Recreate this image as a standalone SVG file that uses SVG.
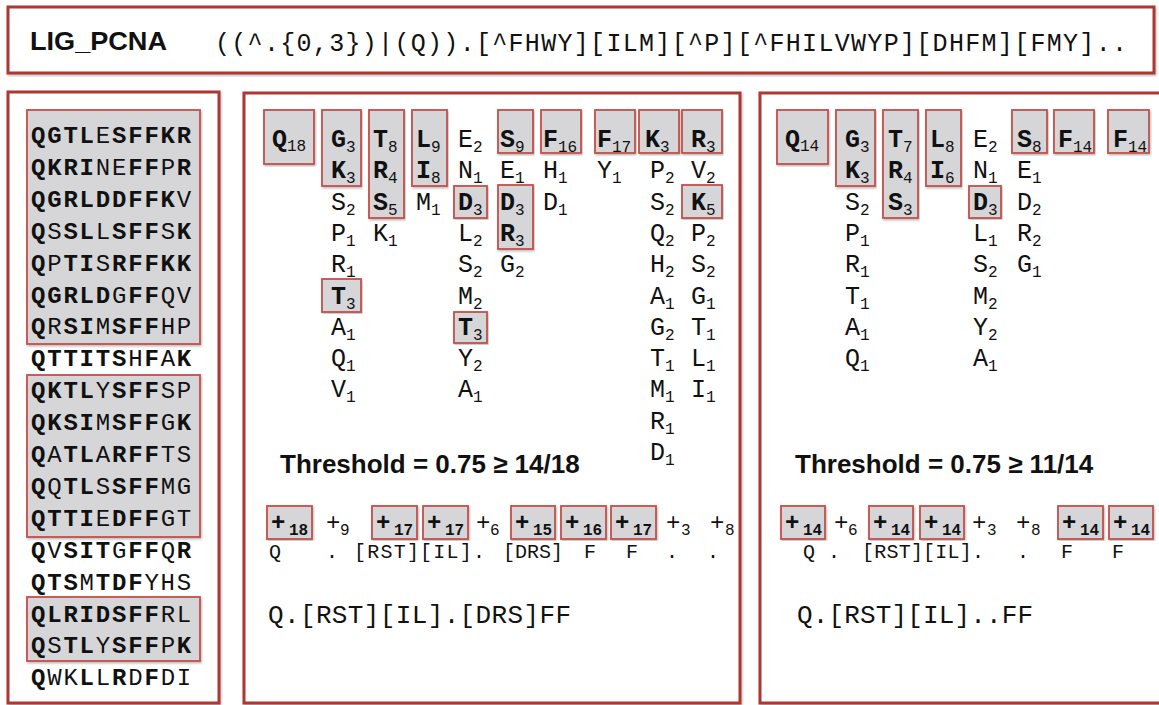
<svg xmlns="http://www.w3.org/2000/svg" width="1159" height="705" viewBox="0 0 1159 705">
<defs>
<filter id="sh" x="-5%" y="-5%" width="110%" height="110%">
<feDropShadow dx="1" dy="1.5" stdDeviation="1" flood-color="#777" flood-opacity="0.5"/>
</filter>
<style>
.panel{fill:#fff;stroke:#ad3733;stroke-width:3;filter:url(#sh)}
.box{fill:#d6d6d9;stroke:#c2504b;stroke-width:1.8;filter:url(#sh)}
.m{font-family:"Liberation Mono",monospace;font-size:25px;fill:#111}
.b{font-weight:bold}
.s{font-size:16px;font-weight:normal}
.sb{font-size:16px;font-weight:bold}
.seq{font-family:"Liberation Mono",monospace;font-size:24px;letter-spacing:1.8px;fill:#111}
.n{font-weight:normal}
.p{font-family:"Liberation Mono",monospace;font-size:24px;fill:#111}
.r2{font-family:"Liberation Mono",monospace;font-size:20px;fill:#111}
.r3{font-family:"Liberation Mono",monospace;font-size:26px;fill:#111}
.th{font-family:"Liberation Sans",Arial,sans-serif;font-size:26px;font-weight:bold;fill:#111}
</style>
</defs>

<g id="header">
<rect class="panel" x="8" y="7" width="1146" height="66"/>
<text x="30" y="50" font-family="Liberation Sans, Arial, sans-serif" font-size="25" font-weight="bold" fill="#111" textLength="137" lengthAdjust="spacingAndGlyphs">LIG_PCNA</text>
<text x="215" y="51" font-family="Liberation Mono, monospace" font-size="25" fill="#111" textLength="912" lengthAdjust="spacing">((^.{0,3})|(Q)).[^FHWY][ILM][^P][^FHILVWYP][DHFM][FMY]..</text>
</g>

<g id="sequences">
<rect class="panel" x="8" y="92" width="211" height="611"/>
<rect class="box" x="27" y="110" width="173" height="234"/>
<rect class="box" x="27" y="375" width="173" height="162"/>
<rect class="box" x="27" y="597" width="173" height="64"/>
<g class="seq b">
<text x="31" y="143">QGTL<tspan class="n">E</tspan>SFFKR</text>
<text x="31" y="174.9">QKRI<tspan class="n">NE</tspan>FF<tspan class="n">P</tspan>R</text>
<text x="31" y="206.8">QGRLDDFFK<tspan class="n">V</tspan></text>
<text x="31" y="238.7">Q<tspan class="n">S</tspan>SL<tspan class="n">L</tspan>SFF<tspan class="n">S</tspan>K</text>
<text x="31" y="270.6">Q<tspan class="n">P</tspan>TI<tspan class="n">S</tspan>RFFKK</text>
<text x="31" y="302.5">QGRLD<tspan class="n">G</tspan>FF<tspan class="n">QV</tspan></text>
<text x="31" y="334.4">Q<tspan class="n">R</tspan>SI<tspan class="n">M</tspan>SFF<tspan class="n">HP</tspan></text>
<text x="31" y="366.3">QTTITS<tspan class="n">H</tspan>F<tspan class="n">A</tspan>K</text>
<text x="31" y="398.2">QKTL<tspan class="n">Y</tspan>SFF<tspan class="n">SP</tspan></text>
<text x="31" y="430.1">QKSI<tspan class="n">M</tspan>SFF<tspan class="n">G</tspan>K</text>
<text x="31" y="462">Q<tspan class="n">A</tspan>TL<tspan class="n">A</tspan>RFF<tspan class="n">TS</tspan></text>
<text x="31" y="493.9">Q<tspan class="n">Q</tspan>TL<tspan class="n">S</tspan>SFF<tspan class="n">MG</tspan></text>
<text x="31" y="525.8">QTTI<tspan class="n">E</tspan>DFF<tspan class="n">GT</tspan></text>
<text x="31" y="557.7">Q<tspan class="n">V</tspan>SIT<tspan class="n">G</tspan>FF<tspan class="n">Q</tspan>R</text>
<text x="31" y="589.6">QTS<tspan class="n">M</tspan>TDF<tspan class="n">YHS</tspan></text>
<text x="31" y="621.5">QLRIDSFF<tspan class="n">RL</tspan></text>
<text x="31" y="653.4">Q<tspan class="n">S</tspan>TL<tspan class="n">Y</tspan>SFF<tspan class="n">P</tspan>K</text>
<text x="31" y="685.3">Q<tspan class="n">WK</tspan>L<tspan class="n">L</tspan>R<tspan class="n">D</tspan>F<tspan class="n">DI</tspan></text>
</g>
</g>

<g id="profile18">
<rect class="panel" x="244" y="93" width="496" height="610"/>
<rect class="box" x="264" y="110" width="50" height="54"/>
<rect class="box" x="322" y="110" width="39" height="76"/>
<rect class="box" x="369" y="110" width="35" height="108"/>
<rect class="box" x="412" y="110" width="35" height="76"/>
<rect class="box" x="454" y="186" width="33" height="32"/>
<rect class="box" x="498" y="110" width="35" height="43"/>
<rect class="box" x="541" y="110" width="40" height="43"/>
<rect class="box" x="595" y="110" width="40" height="43"/>
<rect class="box" x="639" y="110" width="40" height="43"/>
<rect class="box" x="682" y="110" width="40" height="43"/>
<rect class="box" x="498" y="185" width="35" height="64"/>
<rect class="box" x="682" y="185" width="40" height="33"/>
<rect class="box" x="322" y="279" width="39" height="33"/>
<rect class="box" x="454" y="312" width="33" height="31"/>
<g class="m">
<text class="b" x="272" y="147">Q<tspan class="s" dy="4">18</tspan></text>
<text class="b" x="331" y="147">G<tspan class="s" dy="5">3</tspan></text>
<text class="b" x="331" y="178.3">K<tspan class="s" dy="5">3</tspan></text>
<text x="331" y="209.6">S<tspan class="s" dy="5">2</tspan></text>
<text x="331" y="240.9">P<tspan class="s" dy="5">1</tspan></text>
<text x="331" y="272.2">R<tspan class="s" dy="5">1</tspan></text>
<text class="b" x="331" y="303.5">T<tspan class="s" dy="5">3</tspan></text>
<text x="331" y="334.8">A<tspan class="s" dy="5">1</tspan></text>
<text x="331" y="366.1">Q<tspan class="s" dy="5">1</tspan></text>
<text x="331" y="397.4">V<tspan class="s" dy="5">1</tspan></text>
<text class="b" x="373" y="147">T<tspan class="s" dy="5">8</tspan></text>
<text class="b" x="373" y="178.3">R<tspan class="s" dy="5">4</tspan></text>
<text class="b" x="373" y="209.6">S<tspan class="s" dy="5">5</tspan></text>
<text x="373" y="240.9">K<tspan class="s" dy="5">1</tspan></text>
<text class="b" x="416" y="147">L<tspan class="s" dy="5">9</tspan></text>
<text class="b" x="416" y="178.3">I<tspan class="s" dy="5">8</tspan></text>
<text x="416" y="209.6">M<tspan class="s" dy="5">1</tspan></text>
<text x="458" y="147">E<tspan class="s" dy="5">2</tspan></text>
<text x="458" y="178.3">N<tspan class="s" dy="5">1</tspan></text>
<text class="b" x="458" y="209.6">D<tspan class="s" dy="5">3</tspan></text>
<text x="458" y="240.9">L<tspan class="s" dy="5">2</tspan></text>
<text x="458" y="272.2">S<tspan class="s" dy="5">2</tspan></text>
<text x="458" y="303.5">M<tspan class="s" dy="5">2</tspan></text>
<text class="b" x="458" y="334.8">T<tspan class="s" dy="5">3</tspan></text>
<text x="458" y="366.1">Y<tspan class="s" dy="5">2</tspan></text>
<text x="458" y="397.4">A<tspan class="s" dy="5">1</tspan></text>
<text class="b" x="500" y="147">S<tspan class="s" dy="5">9</tspan></text>
<text x="500" y="178.3">E<tspan class="s" dy="5">1</tspan></text>
<text class="b" x="500" y="209.6">D<tspan class="s" dy="5">3</tspan></text>
<text class="b" x="500" y="240.9">R<tspan class="s" dy="5">3</tspan></text>
<text x="500" y="272.2">G<tspan class="s" dy="5">2</tspan></text>
<text class="b" x="543" y="147">F<tspan class="s" dy="5">16</tspan></text>
<text x="543" y="178.3">H<tspan class="s" dy="5">1</tspan></text>
<text x="543" y="209.6">D<tspan class="s" dy="5">1</tspan></text>
<text class="b" x="597" y="147">F<tspan class="s" dy="5">17</tspan></text>
<text x="597" y="178.3">Y<tspan class="s" dy="5">1</tspan></text>
<text class="b" x="645" y="147">K<tspan class="s" dy="5">3</tspan></text>
<text x="650" y="178.3">P<tspan class="s" dy="5">2</tspan></text>
<text x="650" y="209.6">S<tspan class="s" dy="5">2</tspan></text>
<text x="650" y="240.9">Q<tspan class="s" dy="5">2</tspan></text>
<text x="650" y="272.2">H<tspan class="s" dy="5">2</tspan></text>
<text x="650" y="303.5">A<tspan class="s" dy="5">1</tspan></text>
<text x="650" y="334.8">G<tspan class="s" dy="5">2</tspan></text>
<text x="650" y="366.1">T<tspan class="s" dy="5">1</tspan></text>
<text x="650" y="397.4">M<tspan class="s" dy="5">1</tspan></text>
<text x="650" y="428.7">R<tspan class="s" dy="5">1</tspan></text>
<text x="650" y="460">D<tspan class="s" dy="5">1</tspan></text>
<text class="b" x="691" y="147">R<tspan class="s" dy="5">3</tspan></text>
<text x="691" y="178.3">V<tspan class="s" dy="5">2</tspan></text>
<text class="b" x="691" y="209.6">K<tspan class="s" dy="5">5</tspan></text>
<text x="691" y="240.9">P<tspan class="s" dy="5">2</tspan></text>
<text x="691" y="272.2">S<tspan class="s" dy="5">2</tspan></text>
<text x="691" y="303.5">G<tspan class="s" dy="5">1</tspan></text>
<text x="691" y="334.8">T<tspan class="s" dy="5">1</tspan></text>
<text x="691" y="366.1">L<tspan class="s" dy="5">1</tspan></text>
<text x="691" y="397.4">I<tspan class="s" dy="5">1</tspan></text>
</g>
<text class="th" x="280" y="473">Threshold = 0.75 ≥ 14/18</text>
<rect class="box" x="267" y="506" width="45" height="33"/>
<rect class="box" x="372" y="506" width="45" height="33"/>
<rect class="box" x="423" y="506" width="45" height="33"/>
<rect class="box" x="511" y="506" width="44" height="33"/>
<rect class="box" x="561" y="506" width="45" height="33"/>
<rect class="box" x="611" y="506" width="45" height="33"/>
<g class="p">
<text class="b" x="271" y="530">+<tspan class="sb" x="289" y="535">18</tspan></text>
<text x="326" y="530">+<tspan class="s" x="340" y="535">9</tspan></text>
<text class="b" x="376" y="530">+<tspan class="sb" x="394" y="535">17</tspan></text>
<text class="b" x="427" y="530">+<tspan class="sb" x="445" y="535">17</tspan></text>
<text x="476" y="530">+<tspan class="s" x="490" y="535">6</tspan></text>
<text class="b" x="515" y="530">+<tspan class="sb" x="533" y="535">15</tspan></text>
<text class="b" x="565" y="530">+<tspan class="sb" x="583" y="535">16</tspan></text>
<text class="b" x="615" y="530">+<tspan class="sb" x="633" y="535">17</tspan></text>
<text x="666" y="530">+<tspan class="s" x="681" y="535">3</tspan></text>
<text x="710" y="530">+<tspan class="s" x="725" y="535">8</tspan></text>
</g>
<g class="r2" text-anchor="middle">
<text x="275" y="558">Q</text>
<text x="332" y="558">.</text>
<text x="354" y="558" text-anchor="start" textLength="131" lengthAdjust="spacing">[RST][IL].</text>
<text x="503" y="558" text-anchor="start">[DRS]</text>
<text x="590" y="558">F</text>
<text x="632" y="558">F</text>
<text x="672" y="558">.</text>
<text x="713" y="558">.</text>
</g>
<text class="r3" x="268" y="623" textLength="303" lengthAdjust="spacing">Q.[RST][IL].[DRS]FF</text>
</g>

<g id="profile14">
<rect class="panel" x="760" y="93" width="410" height="610"/>
<rect class="box" x="777" y="110" width="51" height="54"/>
<rect class="box" x="836" y="110" width="39" height="76"/>
<rect class="box" x="883" y="110" width="35" height="108"/>
<rect class="box" x="926" y="110" width="35" height="76"/>
<rect class="box" x="969" y="186" width="32" height="32"/>
<rect class="box" x="1012" y="110" width="35" height="43"/>
<rect class="box" x="1054" y="110" width="40" height="43"/>
<rect class="box" x="1108" y="110" width="41" height="43"/>
<g class="m">
<text class="b" x="785" y="147">Q<tspan class="s" dy="4">14</tspan></text>
<text class="b" x="845" y="147">G<tspan class="s" dy="5">3</tspan></text>
<text class="b" x="845" y="178.3">K<tspan class="s" dy="5">3</tspan></text>
<text x="845" y="209.6">S<tspan class="s" dy="5">2</tspan></text>
<text x="845" y="240.9">P<tspan class="s" dy="5">1</tspan></text>
<text x="845" y="272.2">R<tspan class="s" dy="5">1</tspan></text>
<text x="845" y="303.5">T<tspan class="s" dy="5">1</tspan></text>
<text x="845" y="334.8">A<tspan class="s" dy="5">1</tspan></text>
<text x="845" y="366.1">Q<tspan class="s" dy="5">1</tspan></text>
<text class="b" x="888" y="147">T<tspan class="s" dy="5">7</tspan></text>
<text class="b" x="888" y="178.3">R<tspan class="s" dy="5">4</tspan></text>
<text class="b" x="888" y="209.6">S<tspan class="s" dy="5">3</tspan></text>
<text class="b" x="930" y="147">L<tspan class="s" dy="5">8</tspan></text>
<text class="b" x="930" y="178.3">I<tspan class="s" dy="5">6</tspan></text>
<text x="973" y="147">E<tspan class="s" dy="5">2</tspan></text>
<text x="973" y="178.3">N<tspan class="s" dy="5">1</tspan></text>
<text class="b" x="973" y="209.6">D<tspan class="s" dy="5">3</tspan></text>
<text x="973" y="240.9">L<tspan class="s" dy="5">1</tspan></text>
<text x="973" y="272.2">S<tspan class="s" dy="5">2</tspan></text>
<text x="973" y="303.5">M<tspan class="s" dy="5">2</tspan></text>
<text x="973" y="334.8">Y<tspan class="s" dy="5">2</tspan></text>
<text x="973" y="366.1">A<tspan class="s" dy="5">1</tspan></text>
<text class="b" x="1017" y="147">S<tspan class="s" dy="5">8</tspan></text>
<text x="1017" y="178.3">E<tspan class="s" dy="5">1</tspan></text>
<text x="1017" y="209.6">D<tspan class="s" dy="5">2</tspan></text>
<text x="1017" y="240.9">R<tspan class="s" dy="5">2</tspan></text>
<text x="1017" y="272.2">G<tspan class="s" dy="5">1</tspan></text>
<text class="b" x="1058" y="147">F<tspan class="s" dy="5">14</tspan></text>
<text class="b" x="1113" y="147">F<tspan class="s" dy="5">14</tspan></text>
</g>
<text class="th" x="795" y="473">Threshold = 0.75 ≥ 11/14</text>
<rect class="box" x="781" y="506" width="44" height="33"/>
<rect class="box" x="869" y="506" width="44" height="33"/>
<rect class="box" x="920" y="506" width="44" height="33"/>
<rect class="box" x="1058" y="506" width="45" height="33"/>
<rect class="box" x="1109" y="506" width="44" height="33"/>
<g class="p">
<text class="b" x="785" y="530">+<tspan class="sb" x="803" y="535">14</tspan></text>
<text x="834" y="530">+<tspan class="s" x="848" y="535">6</tspan></text>
<text class="b" x="873" y="530">+<tspan class="sb" x="891" y="535">14</tspan></text>
<text class="b" x="924" y="530">+<tspan class="sb" x="942" y="535">14</tspan></text>
<text x="972" y="530">+<tspan class="s" x="987" y="535">3</tspan></text>
<text x="1016" y="530">+<tspan class="s" x="1031" y="535">8</tspan></text>
<text class="b" x="1062" y="530">+<tspan class="sb" x="1080" y="535">14</tspan></text>
<text class="b" x="1113" y="530">+<tspan class="sb" x="1131" y="535">14</tspan></text>
</g>
<g class="r2" text-anchor="middle">
<text x="809" y="558">Q</text>
<text x="834" y="558">.</text>
<text x="862" y="558" text-anchor="start" textLength="122" lengthAdjust="spacing">[RST][IL].</text>
<text x="1023" y="558">.</text>
<text x="1067" y="558">F</text>
<text x="1118" y="558">F</text>
</g>
<text class="r3" x="797" y="623" textLength="236" lengthAdjust="spacing">Q.[RST][IL]..FF</text>
</g>

<g id="connectors"/>
</svg>
